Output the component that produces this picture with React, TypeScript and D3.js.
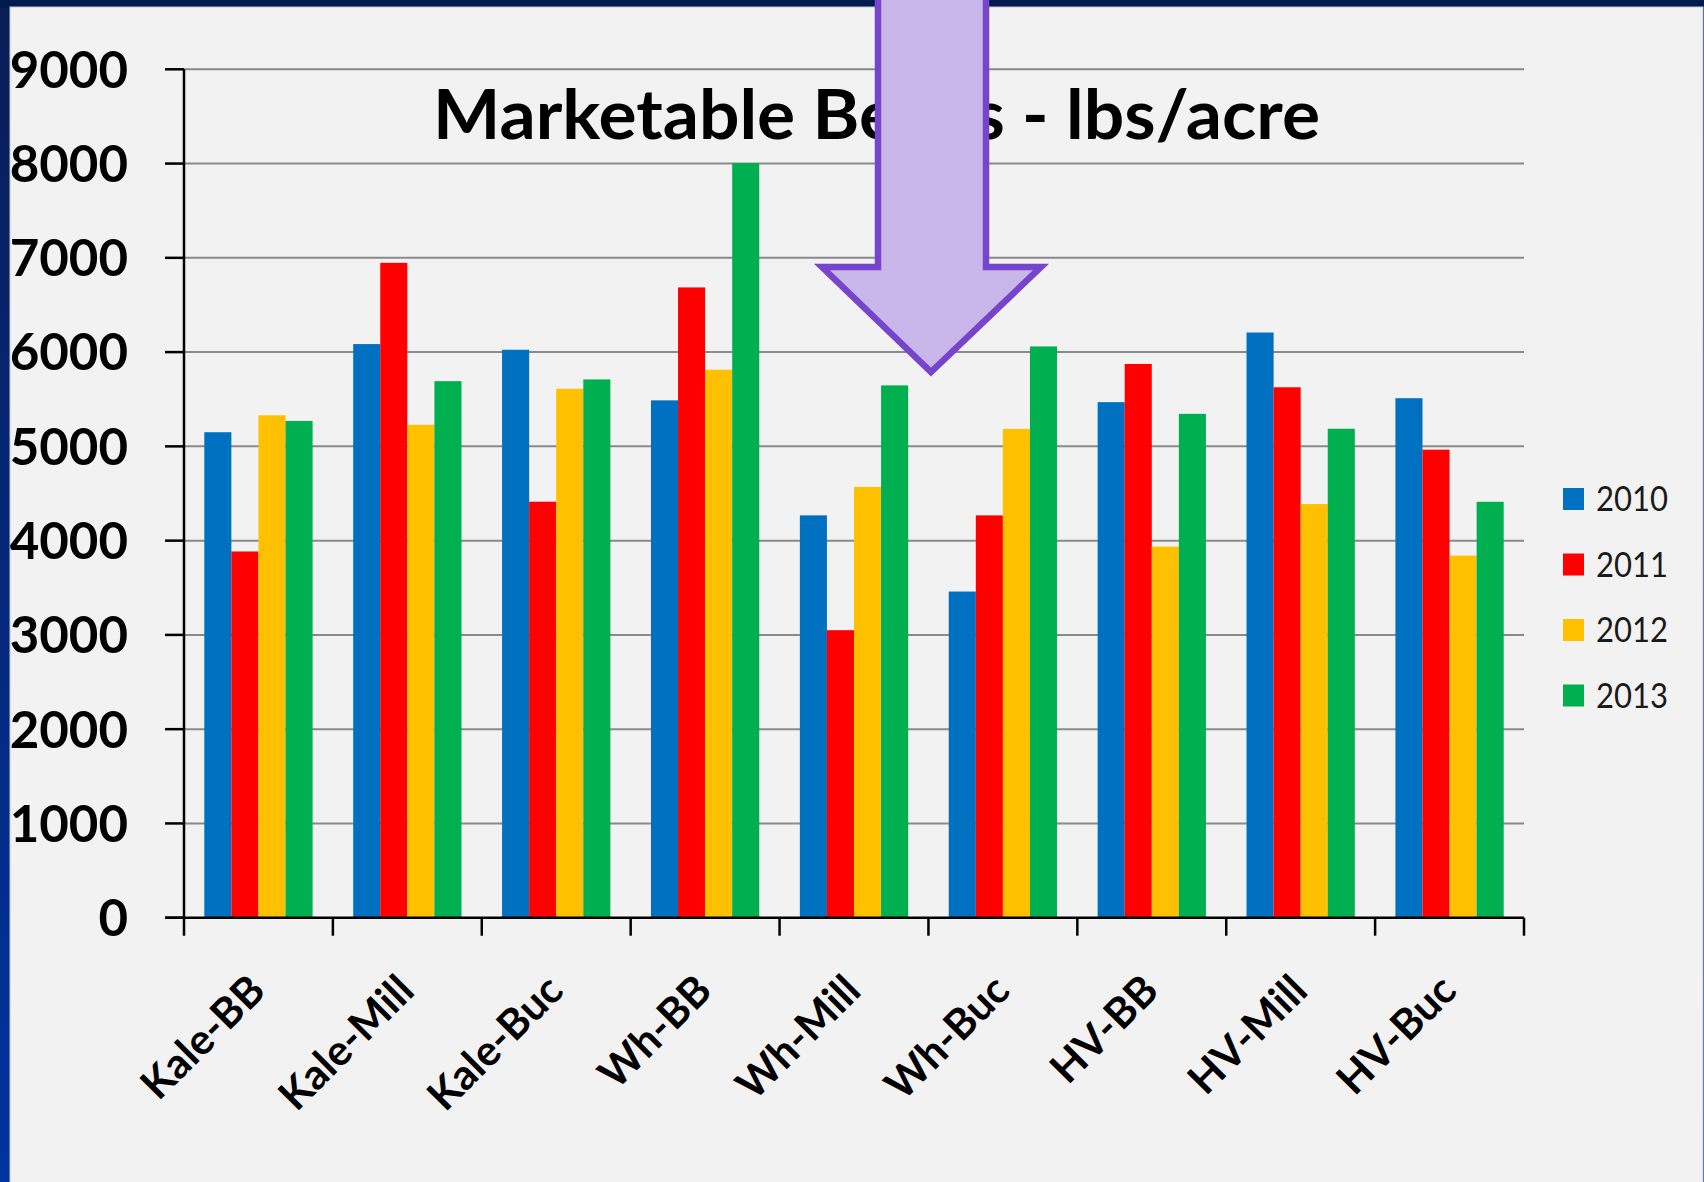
import React from "react";
import * as d3 from "d3";

const categories = ["Kale-BB", "Kale-Mill", "Kale-Buc", "Wh-BB", "Wh-Mill", "Wh-Buc", "HV-BB", "HV-Mill", "HV-Buc"];
const years = ["2010", "2011", "2012", "2013"];
const values2010 = [5150, 6085, 6025, 5488, 4268, 3460, 5469, 6208, 5511];
const values2011 = [3885, 6947, 4413, 6686, 3050, 4268, 5874, 5627, 4965];
const values2012 = [5330, 5229, 5611, 5813, 4570, 5185, 3937, 4388, 3841];
const values2013 = [5270, 5692, 5710, 8005, 5647, 6060, 5345, 5187, 4412];
const seriesColors = ["#0070C0", "#FF0000", "#FFC000", "#00B050"];
const yTicks = [0, 1000, 2000, 3000, 4000, 5000, 6000, 7000, 8000, 9000];
const titleText = "Marketable Beans - lbs/acre";

const W = 1704;
const H = 1182;

export default function App() {
  const series = [values2010, values2011, values2012, values2013];
  const x0 = d3.scaleBand<string>().domain(categories).range([184, 1524]).paddingInner(0).paddingOuter(0);
  const x1 = d3.scaleBand<string>().domain(years).range([0, x0.bandwidth()]).paddingInner(0).paddingOuter(0.75);
  const y = d3.scaleLinear().domain([0, 9000]).range([917.7, 69.3]);
  const font = "Lato, 'Open Sans', sans-serif";
  const boundaries = categories.map((c) => x0(c) as number).concat([x0.range()[1]]);

  const arrowPts: [number, number][] = [
    [878, -10], [986, -10], [986, 267], [1041, 267], [931, 372], [822, 267], [878, 267],
  ];

  return (
    <svg width={W} height={H} style={{ position: "absolute", left: 0, top: 0, display: "block" }}>
      <defs>
        <linearGradient id="frame" x1="0" y1="0" x2="0" y2="1">
          <stop offset="0" stopColor="#0a1d55" />
          <stop offset="1" stopColor="#0033a0" />
        </linearGradient>
      </defs>
      <rect x={0} y={0} width={W} height={H} fill="url(#frame)" />
      <rect x={0} y={0} width={W} height={8} fill="#001a4f" />
      <rect x={10} y={7} width={1693} height={H} fill="#f2f2f2" stroke="#c8c8c8" strokeWidth={1} />

      {/* gridlines */}
      {yTicks.slice(1).map((t) => (
        <line key={"g" + t} x1={184} x2={1524} y1={y(t)} y2={y(t)} stroke="#8a8a8a" strokeWidth={2} />
      ))}

      {/* bars */}
      {categories.map((c, i) => (
        <g key={c} transform={`translate(${x0(c)},0)`}>
          {years.map((yr, j) => (
            <rect
              key={yr}
              x={x1(yr)}
              y={y(series[j][i])}
              width={x1.bandwidth()}
              height={y(0) - y(series[j][i])}
              fill={seriesColors[j]}
            />
          ))}
        </g>
      ))}

      {/* y axis */}
      <line x1={184} x2={184} y1={y(9000)} y2={y(0)} stroke="#000" strokeWidth={2.5} />
      {yTicks.map((t) => (
        <g key={"yt" + t}>
          <line x1={165} x2={184} y1={y(t)} y2={y(t)} stroke="#000" strokeWidth={2.5} />
          <text x={128} y={y(t)} dy="0.36em" textAnchor="end" fontFamily={font} fontWeight={700} fontSize={51} fill="#000">
            {t}
          </text>
        </g>
      ))}

      {/* x axis */}
      <line x1={165} x2={1524} y1={y(0)} y2={y(0)} stroke="#000" strokeWidth={2.5} />
      {boundaries.map((bx, i) => (
        <line key={"xt" + i} x1={bx} x2={bx} y1={y(0)} y2={y(0) + 18} stroke="#000" strokeWidth={2.5} />
      ))}
      {categories.map((c) => {
        const cx = (x0(c) as number) + x0.bandwidth() / 2 + 9;
        const cy = 993;
        return (
          <text
            key={"xl" + c}
            x={cx}
            y={cy}
            transform={`rotate(-45 ${cx} ${cy})`}
            textAnchor="end"
            fontFamily={font}
            fontWeight={700}
            fontSize={42}
            fill="#000"
          >
            {c}
          </text>
        );
      })}

      {/* title */}
      <text x={433} y={139} fontFamily={font} fontWeight={700} fontSize={68} fill="#000" textLength={887} lengthAdjust="spacingAndGlyphs">
        {titleText}
      </text>

      {/* legend */}
      {years.map((yr, j) => {
        const cy = 499 + j * 65.5;
        return (
          <g key={"lg" + yr}>
            <rect x={1563} y={cy - 11} width={21} height={22} fill={seriesColors[j]} />
            <text x={1596} y={cy} dy="0.36em" fontFamily={font} fontSize={34} fill="#1a1a1a" textLength={72} lengthAdjust="spacingAndGlyphs">
              {yr}
            </text>
          </g>
        );
      })}

      {/* arrow */}
      <polygon
        points={arrowPts.map((p) => p.join(",")).join(" ")}
        fill="#c9b6ea"
        stroke="#7744cc"
        strokeWidth={6.5}
        strokeLinejoin="miter"
      />
    </svg>
  );
}
